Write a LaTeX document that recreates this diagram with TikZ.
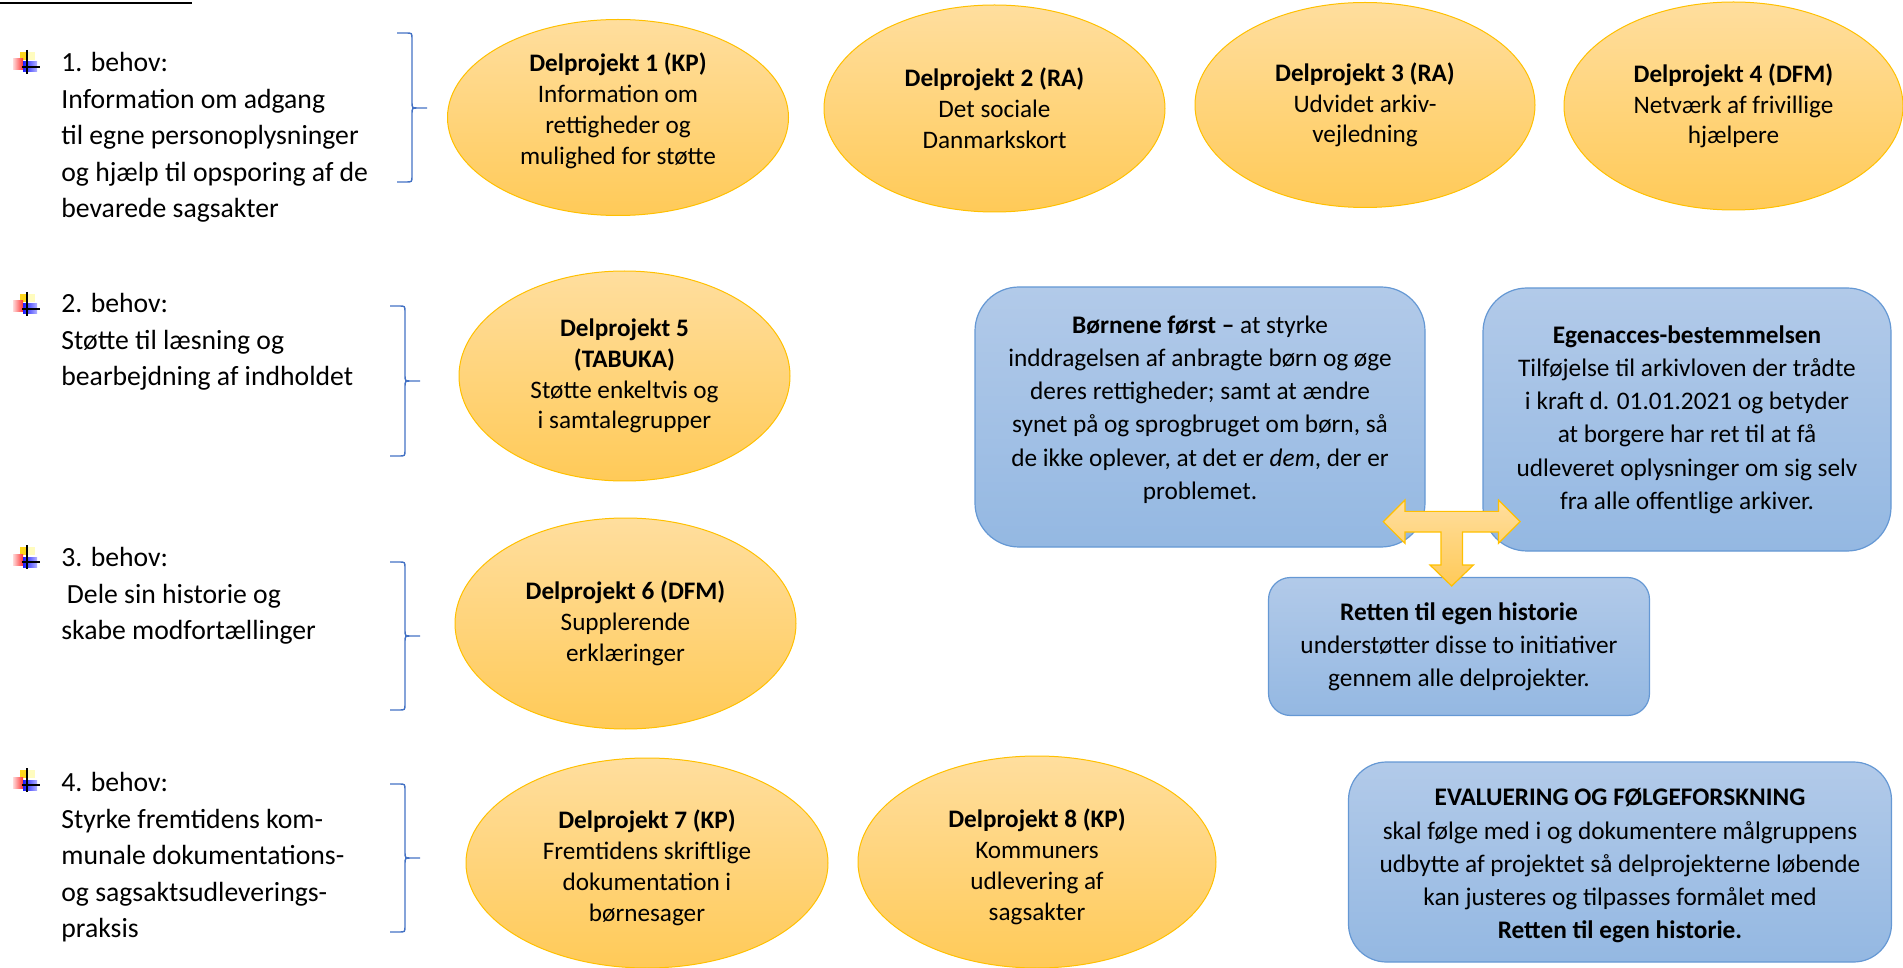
\documentclass[tikz,border=0pt]{standalone}
\usepackage{fontspec}
\setmainfont{Carlito}
\usetikzlibrary{shapes.geometric}

\definecolor{goldline}{RGB}{255,192,0}
\definecolor{goldtop}{RGB}{255,222,158}
\definecolor{goldbot}{RGB}{255,202,88}
\definecolor{bluetop}{RGB}{178,202,233}
\definecolor{bluebot}{RGB}{148,184,226}
\definecolor{blueline}{RGB}{101,152,212}
\definecolor{bracecol}{RGB}{68,114,196}

\tikzset{behovmark/.pic={
    \fill[yellow!70!orange!90] (-6,-10) rectangle (2,-2);
    \fill[yellow!25] (2,-10) rectangle (9,-2);
    \shade[left color=red!15, right color=red!80] (-13,-3) rectangle (-3,8);
    \shade[left color=blue!90, right color=blue!30] (-3,0) rectangle (11,10);
    \draw[line width=0.9pt] (1,-12) -- (1,12) (-4,4.7) -- (14,4.7);
}}

\begin{document}
\begin{tikzpicture}[x=0.5pt, y=-0.5pt,
  need/.style={anchor=base west, align=left, inner sep=0pt, font=\fontsize{13.85pt}{18.25pt}\selectfont},
  proj/.style={ellipse, draw=goldline, line width=0.5pt, top color=goldtop, bottom color=goldbot, align=center, inner sep=0pt, font=\fontsize{12.6pt}{15.4pt}\selectfont},
  rbox/.style={rectangle, rounded corners=#1, draw=blueline, line width=0.6pt, top color=bluetop, bottom color=bluebot, align=center, inner sep=0pt, font=\fontsize{12.65pt}{16.6pt}\selectfont}]

        \useasboundingbox (0,0) rectangle (1903,968);
        \draw[line width=1.3pt] (0,3) -- (192,3);

        % behov (anchored at the baseline of the last line)
        \pic at (26,62) {behovmark};
        \pic at (26,304) {behovmark};
        \pic at (26,557) {behovmark};
        \pic at (26,780) {behovmark};
        \node[need] (need1) at (61,218) {1. behov:\\Information om adgang\\til egne personoplysninger\\og hjælp til opsporing af de\\bevarede sagsakter};
        \node[need] (need2) at (61,386) {2. behov:\\Støtte til læsning og\\bearbejdning af indholdet};
        \node[need] (need3) at (61,639.5) {3. behov:\\\hspace*{0.2em}Dele sin historie og\\skabe modfortællinger};
        \node[need] (need4) at (61,937.5) {4. behov:\\Styrke fremtidens kom-\\munale dokumentations-\\og sagsaktsudleverings-\\praksis};

        \foreach \x/\t/\m/\b in {397/33/108/182, 390/306/381/456, 390/562/636/710, 390/784/858/932}
            \draw[bracecol, line width=0.7pt] (\x,\t) -- (\x+9,\t) .. controls (\x+15,\t) .. (\x+15,\t+6) -- (\x+15,\m-6) .. controls (\x+15,\m) .. (\x+21,\m) -- (\x+30,\m) -- (\x+21,\m) .. controls (\x+15,\m) .. (\x+15,\m+6) -- (\x+15,\b-6) .. controls (\x+15,\b) .. (\x+9,\b) -- (\x,\b);

        % delprojekter
        \node[proj, minimum width=170.5pt, minimum height=98pt] (dp1) at (618,117.5) {\textbf{Delprojekt 1 (KP)}\\Information om\\rettigheder og\\mulighed for støtte\rule[-9pt]{0pt}{0pt}};
        \node[proj, minimum width=170.5pt, minimum height=103.5pt] (dp2) at (994.5,108.5) {\textbf{Delprojekt 2 (RA)}\\Det sociale\\Danmarkskort};
        \node[proj, minimum width=170pt, minimum height=102.5pt] (dp3) at (1365,105) {\textbf{Delprojekt 3 (RA)}\\Udvidet arkiv-\\vejledning};
        \node[proj, minimum width=169.5pt, minimum height=104pt] (dp4) at (1733.5,106) {\textbf{Delprojekt 4 (DFM)}\\Netværk af frivillige\\hjælpere};
        \node[proj, minimum width=165.5pt, minimum height=105pt] (dp5) at (624.5,376) {\textbf{Delprojekt 5}\\\textbf{(TABUKA)}\\Støtte enkeltvis og\\i samtalegrupper};
        \node[proj, minimum width=170.5pt, minimum height=105.5pt] (dp6) at (625.5,623.5) {\textbf{Delprojekt 6 (DFM)}\\Supplerende\\erklæringer};
        \node[proj, minimum width=181pt, minimum height=105pt] (dp7) at (647,863) {\rule{0pt}{14pt}\textbf{Delprojekt 7 (KP)}\\Fremtidens skriftlige\\dokumentation i\\børnesager};
        \node[proj, minimum width=179pt, minimum height=106pt] (dp8) at (1037,862) {\rule{0pt}{14pt}\textbf{Delprojekt 8 (KP)}\\Kommuners\\udlevering af\\sagsakter};

        % initiativer
        \node[rbox=22pt, minimum width=225pt, minimum height=130pt] (first) at (1200,417) {\textbf{Børnene først –} at styrke\\inddragelsen af anbragte børn og øge\\deres rettigheder; samt at ændre\\synet på og sprogbruget om børn, så\\de ikke oplever, at det er \textit{dem}, der er\\problemet.\rule[-9.5pt]{0pt}{0pt}};
        \node[rbox=22pt, minimum width=204pt, minimum height=131.5pt] (egen) at (1687,419.5) {\textbf{Egenacces-bestemmelsen}\\Tilføjelse til arkivloven der trådte\\i kraft d. 01.01.2021 og betyder\\at borgere har ret til at få\\udleveret oplysninger om sig selv\\fra alle offentlige arkiver.};
        \node[rbox=11pt, minimum width=190.5pt, minimum height=69pt] (retten) at (1459,646.5) {\textbf{Retten til egen historie}\\understøtter disse to initiativer\\gennem alle delprojekter.};
        \node[rbox=19pt, minimum width=271.5pt, minimum height=100pt] (eval) at (1620,862) {\rule{0pt}{12.5pt}\textbf{EVALUERING OG FØLGEFORSKNING}\\skal følge med i og dokumentere målgruppens\\udbytte af projektet så delprojekterne løbende\\kan justeres og tilpasses formålet med\\\textbf{Retten til egen historie.}};

        \coordinate (tee) at (1451.7,521.7);
        \draw[goldline, line width=0.6pt, top color=goldtop, bottom color=goldbot, shift={(tee)}]
            (-68.4,0) -- (-46.7,-21.7) -- (-46.7,-10.3) -- (46.7,-10.3) -- (46.7,-21.7) -- (68.4,0)
            -- (46.7,21.7) -- (46.7,10.3) -- (10.7,10.3) -- (10.7,43.3) -- (21.7,43.3) -- (0,64.3)
            -- (-21.7,43.3) -- (-10.7,43.3) -- (-10.7,10.3) -- (-46.7,10.3) -- (-46.7,21.7) -- cycle;
\end{tikzpicture}
\end{document}
